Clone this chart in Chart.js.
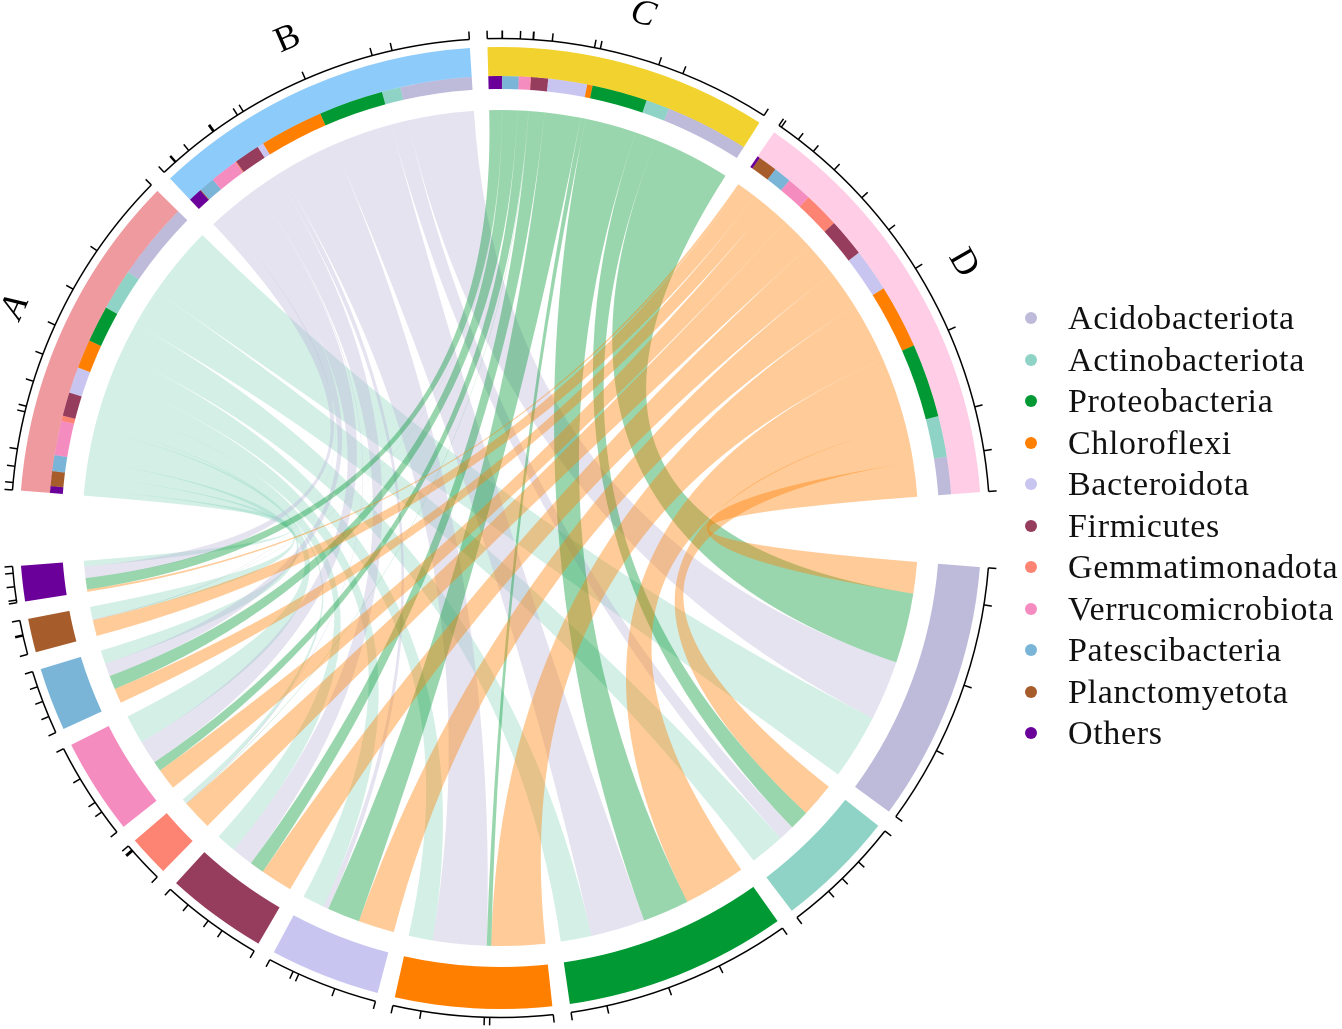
<!DOCTYPE html>
<html>
<head>
<meta charset="utf-8">
<title>Chord diagram</title>
<script src="https://cdn.jsdelivr.net/npm/chart.js@4"></script>
<style>
  html, body { margin: 0; padding: 0; background: #fff; }
  #wrap { position: relative; width: 1342px; height: 1029px; overflow: hidden; }
  #legend { position: absolute; left: 1025px; top: 297px; font: 34px "Liberation Serif", serif; color: #111; white-space: nowrap; }
  #legend div { height: 41.55px; line-height: 41.55px; position: relative; padding-left: 43px; letter-spacing: 0.65px; }
  #legend i { position: absolute; left: 0; top: 15px; width: 12px; height: 12px; border-radius: 50%; }
</style>
</head>
<body>
<div id="wrap">
  <canvas id="chord" width="1342" height="1029"></canvas>
  <div id="legend"></div>
</div>
<script>
// sample groups, upper half
const samples = ["A", "B", "C", "D"];
// phyla, lower half, same order as the legend
const phyla = ["Acidobacteriota", "Actinobacteriota", "Proteobacteria", "Chloroflexi", "Bacteroidota",
  "Firmicutes", "Gemmatimonadota", "Verrucomicrobiota", "Patescibacteria", "Planctomyetota", "Others"];

// one value per phylum
const valuesA = [10.0, 5.3, 4.7, 3.7, 3.36, 3.04, 0.67, 4.43, 2.06, 1.91, 0.88];
const valuesB = [9.15, 2.4, 8.3, 8.2, 0.8, 3.3, 0.15, 3.6, 2.0, 0.1, 1.75];
const valuesC = [10.7, 3.0, 7.1, 0.7, 5.0, 2.2, 0.05, 1.5, 2.1, 0.03, 1.74];
const valuesD = [4.8, 5.25, 9.5, 8.2, 5.5, 4.9, 4.6, 3.25, 2.25, 2.45, 0.35];
const table = [valuesA, valuesB, valuesC, valuesD];

const sampleColors = ["#EE9A9F", "#8DCBFB", "#F2D22E", "#FFCDE6"];
const phylaColors = ["#BEBADA", "#8FD3C6", "#009933", "#FF7F00", "#C8C5F0", "#963C5D",
  "#FD8373", "#F58CC0", "#7AB5D8", "#A65C2B", "#6A0099"];
const ribbonColors = ["rgba(146,214,192,0.4)", "rgba(190,186,218,0.4)", "rgba(0,153,51,0.4)", "rgba(255,128,0,0.4)"];
const labelFonts = ["italic 36px 'Liberation Serif'", "36px 'Liberation Serif'", "italic 36px 'Liberation Serif'", "36px 'Liberation Serif'"];

const GAP = 2.1, BIG_GAP = 8.95;
const R_OUT = 481, R_MID = 452, R_IN = 439, R_RIBBON = 418;
const R_AXIS = 489.5, TICK = 8, R_LABEL = 533;
const NONE = "rgba(0,0,0,0)";

const sum = a => a.reduce((s, v) => s + v, 0);
const phylumTotal = phyla.map((p, j) => sum(table.map(row => row[j])));
const upperSpan = sum(table.map(sum)) + GAP * (samples.length - 1);
const lowerScale = (360 - upperSpan - 2 * BIG_GAP - GAP * (phyla.length - 1)) / sum(phylumTotal);

// outer ring: one slice per sample and per phylum, gaps are see-through slices
let outerData = [], outerColors = [];
// inner ring: samples split in phyla (reversed, Others first), lower half hidden as the outer ring covers it
let innerData = [], innerColors = [];
let upperIndex = {}, lowerIndex = [], outerLower = [];

samples.forEach((s, i) => {
  outerData.push(sum(table[i]));
  outerColors.push(sampleColors[i]);
  for (let j = phyla.length - 1; j >= 0; j--) {
    upperIndex[i + "_" + j] = innerData.length;
    innerData.push(table[i][j]);
    innerColors.push(phylaColors[j]);
  }
  let gap = i < samples.length - 1 ? GAP : BIG_GAP;
  outerData.push(gap);
  outerColors.push(NONE);
  innerData.push(gap);
  innerColors.push(NONE);
});
phyla.forEach((p, j) => {
  let v = phylumTotal[j] * lowerScale;
  outerLower.push(outerData.length);
  outerData.push(v);
  outerColors.push(phylaColors[j]);
  lowerIndex.push(innerData.length);
  innerData.push(v);
  innerColors.push(NONE);
  let gap = j < phyla.length - 1 ? GAP : BIG_GAP;
  outerData.push(gap);
  outerColors.push(NONE);
  innerData.push(gap);
  innerColors.push(NONE);
});

// lower arcs of one phylum are shared out D, C, B, A going clockwise
function lowerArcs(chart, j) {
  let arc = chart.getDatasetMeta(1).data[lowerIndex[j]];
  let a = arc.startAngle, out = [];
  let per = (arc.endAngle - arc.startAngle) / phylumTotal[j];
  for (let i = samples.length - 1; i >= 0; i--) {
    let b = a + table[i][j] * per;
    out[i] = [a, b];
    a = b;
  }
  return out;
}

function tickAt(ctx, cx, cy, a) {
  ctx.moveTo(cx + R_AXIS * Math.cos(a), cy + R_AXIS * Math.sin(a));
  ctx.lineTo(cx + (R_AXIS + TICK) * Math.cos(a), cy + (R_AXIS + TICK) * Math.sin(a));
}

const chordPlugin = {
  id: "chord",
  afterDatasetsUpdate(chart) {
    // lower half: one solid slice across both rings
    let arcs = chart.getDatasetMeta(0).data;
    outerLower.forEach(n => { arcs[n].innerRadius = R_IN; });
  },
  afterDatasetsDraw(chart) {
    const ctx = chart.ctx;
    const inner = chart.getDatasetMeta(1).data;
    const cx = inner[0].x, cy = inner[0].y;
    const lower = phyla.map((p, j) => lowerArcs(chart, j));

    // ribbons
    samples.forEach((s, i) => {
      ctx.fillStyle = ribbonColors[i];
      phyla.forEach((p, j) => {
        let up = inner[upperIndex[i + "_" + j]];
        let [b1, b2] = lower[j][i];
        ctx.beginPath();
        ctx.arc(cx, cy, R_RIBBON, up.startAngle, up.endAngle);
        ctx.quadraticCurveTo(cx, cy, cx + R_RIBBON * Math.cos(b1), cy + R_RIBBON * Math.sin(b1));
        ctx.arc(cx, cy, R_RIBBON, b1, b2);
        ctx.quadraticCurveTo(cx, cy, cx + R_RIBBON * Math.cos(up.startAngle), cy + R_RIBBON * Math.sin(up.startAngle));
        ctx.closePath();
        ctx.fill();
      });
    });

    // axis lines with a tick on each boundary
    ctx.strokeStyle = "#000";
    ctx.lineWidth = 1.5;
    ctx.lineCap = "butt";
    samples.forEach((s, i) => {
      let first = inner[upperIndex[i + "_" + (phyla.length - 1)]];
      let last = inner[upperIndex[i + "_0"]];
      ctx.beginPath();
      ctx.arc(cx, cy, R_AXIS, first.startAngle, last.endAngle);
      tickAt(ctx, cx, cy, first.startAngle);
      phyla.forEach((p, j) => tickAt(ctx, cx, cy, inner[upperIndex[i + "_" + j]].endAngle));
      ctx.stroke();
    });
    phyla.forEach((p, j) => {
      let arc = inner[lowerIndex[j]];
      ctx.beginPath();
      ctx.arc(cx, cy, R_AXIS, arc.startAngle, arc.endAngle);
      tickAt(ctx, cx, cy, arc.startAngle);
      lower[j].forEach(r => tickAt(ctx, cx, cy, r[1]));
      ctx.stroke();
    });

    // sample names
    ctx.fillStyle = "#000";
    ctx.textAlign = "center";
    ctx.textBaseline = "middle";
    samples.forEach((s, i) => {
      let first = inner[upperIndex[i + "_" + (phyla.length - 1)]];
      let last = inner[upperIndex[i + "_0"]];
      let mid = (first.startAngle + last.endAngle) / 2;
      ctx.save();
      ctx.translate(cx + R_LABEL * Math.cos(mid), cy + R_LABEL * Math.sin(mid));
      ctx.rotate(mid + Math.PI / 2);
      ctx.font = labelFonts[i];
      ctx.fillText(s, 0, 0);
      ctx.restore();
    });
  }
};

new Chart(document.getElementById("chord"), {
  type: "doughnut",
  data: {
    datasets: [
      { data: outerData, backgroundColor: outerColors, borderWidth: 0, weight: R_OUT - R_MID },
      { data: innerData, backgroundColor: innerColors, borderWidth: 0, weight: R_MID - R_IN }
    ]
  },
  options: {
    responsive: false,
    animation: false,
    devicePixelRatio: 2,
    events: [],
    rotation: -85.55,
    circumference: 360,
    radius: R_OUT,
    cutout: (R_IN / R_OUT * 100) + "%",
    layout: { padding: { top: 27, right: 341 } },
    plugins: { legend: { display: false }, tooltip: { enabled: false } }
  },
  plugins: [chordPlugin]
});

let legend = document.getElementById("legend");
phyla.forEach((p, j) => {
  let row = document.createElement("div");
  let dot = document.createElement("i");
  dot.style.background = phylaColors[j];
  row.appendChild(dot);
  row.appendChild(document.createTextNode(p));
  legend.appendChild(row);
});
</script>
</body>
</html>
